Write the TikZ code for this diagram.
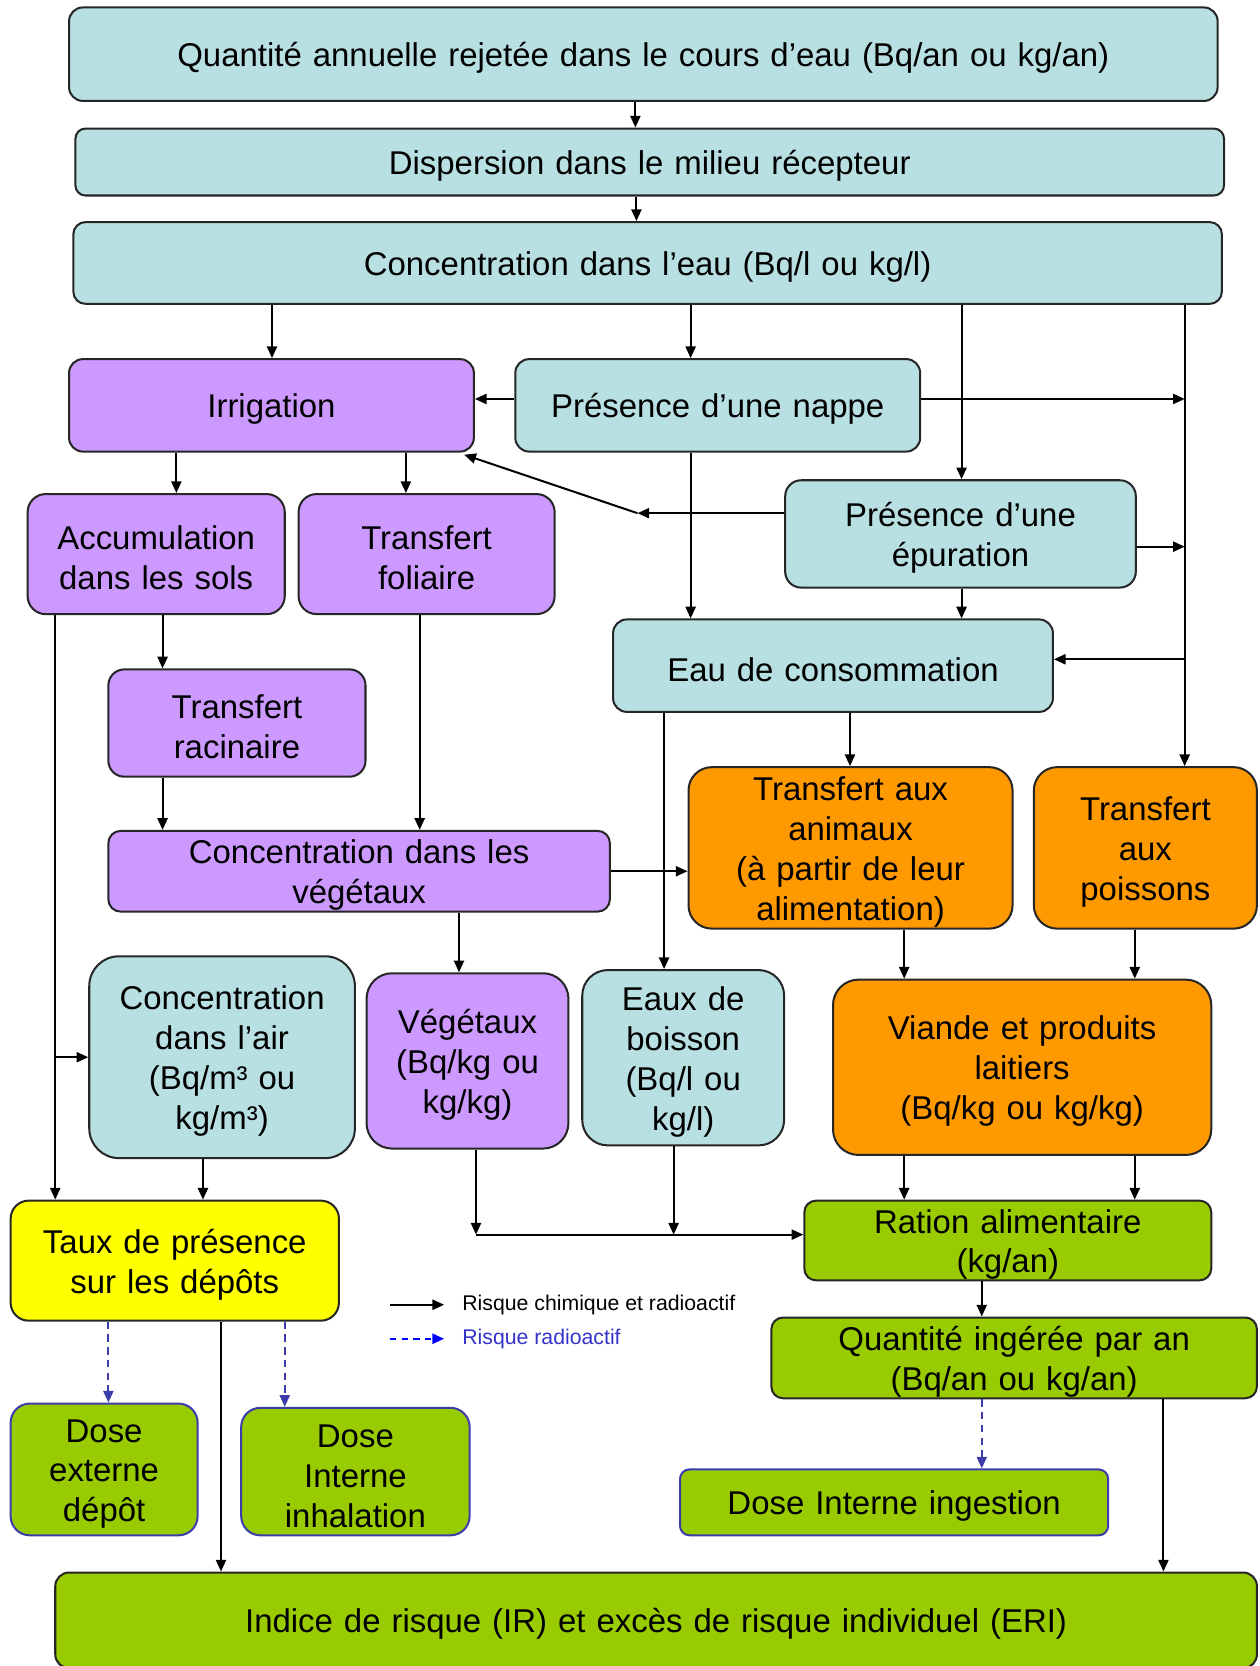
\documentclass[tikz,border=0pt]{standalone}
\usepackage{fontspec}
\setmainfont{Liberation Sans}
\usetikzlibrary{arrows.meta}
\definecolor{eaubleu}{RGB}{184,223,226}
\definecolor{mauve}{RGB}{204,153,255}
\definecolor{orangebox}{RGB}{255,153,0}
\definecolor{vertbox}{RGB}{153,204,0}
\definecolor{jaunebox}{RGB}{255,255,0}
\definecolor{bordbleu}{RGB}{60,60,170}
\definecolor{legbleu}{RGB}{51,51,204}
\newcommand{\boxfont}{\fontsize{31}{37.5}\selectfont}
\newcommand{\legfont}{\fontsize{20}{24}\selectfont}
\tikzset{boite/.style={draw=black!85, line width=1.9pt, inner sep=0pt, align=center, font=\boxfont,
    text width=\pgfshapeminwidth, execute at begin node={\rule{0pt}{30pt}}},
  doseboite/.style={boite, draw=bordbleu, fill=vertbox},
  arr/.style={line width=1.9pt, -{Triangle[length=11pt,width=9.5pt]}},
  radarr/.style={line width=1.9pt, draw=bordbleu, dash pattern=on 7pt off 5pt, -{Triangle[length=11pt,width=9.5pt]}}}

\begin{document}
\begin{tikzpicture}[x=1pt,y=-1pt]
\useasboundingbox (0,0) rectangle (1185,1568);

\node[boite, fill=eaubleu, rounded corners=13pt, minimum width=1081pt, minimum height=88pt] (quant) at (605.5,51) {Quantité annuelle rejetée dans le cours d’eau (Bq/an ou kg/an)};
\node[boite, fill=eaubleu, rounded corners=9.5pt, minimum width=1081pt, minimum height=63pt] (disp) at (611.5,152.5) {Dispersion dans le milieu récepteur};
\node[boite, fill=eaubleu, rounded corners=11.5pt, minimum width=1081pt, minimum height=77pt] (conc) at (609.5,247.5) {Concentration dans l’eau (Bq/l ou kg/l)};

\node[boite, fill=mauve, rounded corners=13pt, minimum width=381pt, minimum height=87pt] (irr) at (255.5,381.5) {Irrigation};
\node[boite, fill=eaubleu, rounded corners=13pt, minimum width=381pt, minimum height=87pt] (nappe) at (675.5,381.5) {Présence d’une nappe};
\node[boite, fill=mauve, rounded corners=17pt, minimum width=242pt, minimum height=113pt] (accu) at (147,521.5) {Accumulation\\dans les sols};
\node[boite, fill=mauve, rounded corners=17pt, minimum width=241pt, minimum height=113pt] (foli) at (401.5,521.5) {Transfert\\foliaire};
\node[boite, fill=eaubleu, rounded corners=15pt, minimum width=330pt, minimum height=101pt] (epur) at (904,502.5) {Présence d’une\\épuration};
\node[boite, fill=eaubleu, rounded corners=13pt, minimum width=414pt, minimum height=87pt] (eau) at (784,626.5) {Eau de consommation};
\node[boite, fill=mauve, rounded corners=15pt, minimum width=242pt, minimum height=101pt] (raci) at (223,680.5) {Transfert\\racinaire};
\node[boite, fill=mauve, rounded corners=11.5pt, minimum width=472pt, minimum height=76pt] (cveg) at (338,820) {Concentration dans les\\végétaux};
\node[boite, fill=orangebox, rounded corners=22pt, minimum width=305pt, minimum height=152pt] (anim) at (800.5,798) {Transfert aux\\animaux\\(à partir de leur\\alimentation)};
\node[boite, fill=orangebox, rounded corners=22pt, minimum width=210pt, minimum height=152pt] (pois) at (1078,798) {Transfert\\aux\\poissons};

\node[boite, fill=eaubleu, rounded corners=28pt, minimum width=250pt, minimum height=190pt] (air) at (209,995) {Concentration\\dans l’air\\(Bq/m³ ou\\kg/m³)};
\node[boite, fill=mauve, rounded corners=24pt, minimum width=190pt, minimum height=165pt] (veg) at (440,998.5) {Végétaux\\(Bq/kg ou\\kg/kg)};
\node[boite, fill=eaubleu, rounded corners=24pt, minimum width=190pt, minimum height=165pt] (boi) at (643,995.5) {Eaux de\\boisson\\(Bq/l ou\\kg/l)};
\node[boite, fill=orangebox, rounded corners=24pt, minimum width=356pt, minimum height=165pt] (viande) at (962,1004.5) {Viande et produits\\laitiers\\(Bq/kg ou kg/kg)};

\node[boite, fill=jaunebox, rounded corners=17pt, minimum width=309pt, minimum height=113pt] (taux) at (164.5,1186.5) {Taux de présence\\sur les dépôts};
\node[boite, fill=vertbox, rounded corners=11pt, minimum width=383pt, minimum height=75pt] (ration) at (948.5,1167.5) {Ration alimentaire\\(kg/an)};
\node[boite, fill=vertbox, rounded corners=11pt, minimum width=457pt, minimum height=76pt] (qi) at (954.5,1278) {Quantité ingérée par an\\(Bq/an ou kg/an)};
\node[doseboite, rounded corners=18pt, minimum width=176pt, minimum height=124pt] (dext) at (98,1383) {Dose\\externe\\dépôt};
\node[doseboite, rounded corners=18pt, minimum width=215pt, minimum height=120pt] (dinh) at (334.5,1385) {Dose\\Interne\\inhalation};
\node[doseboite, rounded corners=9pt, minimum width=403pt, minimum height=62pt] (ding) at (841.5,1414) {Dose Interne ingestion};
\node[boite, fill=vertbox, rounded corners=13pt, minimum width=1131pt, minimum height=90pt] (indice) at (617.5,1525) {Indice de risque (IR) et excès de risque individuel (ERI)};

% legende
\node[anchor=west, inner sep=0pt, font=\legfont] (leg1) at (435,1228) {Risque chimique et radioactif};
\node[anchor=west, inner sep=0pt, font=\legfont, text=legbleu] (leg2) at (435,1260) {Risque radioactif};
\coordinate (l1) at (367,1228);
\coordinate (l2) at (367,1260);
\draw[arr] (l1) -- ([xshift=-17pt]leg1.west);
\draw[radarr, draw=blue, dash pattern=on 6pt off 5pt] (l2) -- ([xshift=-17pt]leg2.west);

% haut
\draw[arr] (quant.south -| 598,0) -- (disp.north -| 598,0);
\draw[arr] (disp.south -| 599,0) -- (conc.north -| 599,0);
\draw[arr] (conc.south -| 256,0) -- (irr.north -| 256,0);
\draw[arr] (conc.south -| 650,0) -- (nappe.north -| 650,0);
\draw[arr] (conc.south -| 905,0) -- (epur.north -| 905,0);
\draw[arr] (conc.south -| 1115,0) -- (pois.north -| 1115,0);

\draw[arr] ([yshift=6pt]nappe.west) -- ([yshift=6pt]irr.east);
\draw[arr] ([yshift=6pt]nappe.east) -- ([yshift=6pt]nappe.east -| 1115,0);
\draw[arr] (nappe.south -| 650,0) -- (eau.north -| 650,0);
\coordinate (coude) at (600,483);
\draw[arr] (epur.west |- coude) -- (coude);
\draw[arr] (coude) -- ([xshift=-10pt,yshift=-2pt]irr.south east);
\draw[arr] ([yshift=-12pt]epur.east) -- ([yshift=-12pt]epur.east -| 1115,0);
\draw[arr] (epur.south -| 905,0) -- (eau.north -| 905,0);
\draw[arr] ([yshift=6pt]eau.east -| 1115,0) -- ([yshift=6pt]eau.east);

% vegetaux
\draw[arr] (irr.south -| 166,0) -- (accu.north -| 166,0);
\draw[arr] (irr.south -| 382,0) -- (foli.north -| 382,0);
\draw[arr] (accu.south -| 153,0) -- (raci.north -| 153,0);
\draw[arr] (raci.south -| 153,0) -- (cveg.north -| 153,0);
\draw[arr] (foli.south -| 395,0) -- (cveg.north -| 395,0);
\draw[arr] (accu.south -| 52,0) -- (taux.north -| 52,0);
\draw[arr] (air.west -| 52,0) -- (air.west);
\draw[arr] (cveg.east) -- (cveg.east -| anim.west);
\draw[arr] (cveg.south -| 432,0) -- (veg.north -| 432,0);

% animaux
\draw[arr] (eau.south -| 800,0) -- (anim.north -| 800,0);
\draw[arr] (eau.south -| 625,0) -- (boi.north -| 625,0);
\draw[arr] (anim.south -| 851,0) -- (viande.north -| 851,0);
\draw[arr] (pois.south -| 1068,0) -- (viande.north -| 1068,0);
\draw[arr] (viande.south -| 851,0) -- (ration.north -| 851,0);
\draw[arr] (viande.south -| 1068,0) -- (ration.north -| 1068,0);

% bas
\coordinate (gauche) at (448,1162);
\draw[arr] (veg.south -| gauche) -- (gauche);
\draw[arr] (boi.south -| 634,0) -- (gauche -| 634,0);
\draw[arr] (gauche) -- (gauche -| ration.west);
\draw[arr] (air.south -| 191,0) -- (taux.north -| 191,0);
\draw[arr] (ration.south -| 924,0) -- (qi.north -| 924,0);
\draw[radarr] (qi.south -| 924,0) -- (ding.north -| 924,0);
\draw[arr] (qi.south -| 1095,0) -- (indice.north -| 1095,0);
\draw[radarr] (taux.south -| 102,0) -- (dext.north -| 102,0);
\draw[radarr] (taux.south -| 268,0) -- (dinh.north -| 268,0);
\draw[arr] (taux.south -| 208,0) -- (indice.north -| 208,0);

\end{tikzpicture}
\end{document}
